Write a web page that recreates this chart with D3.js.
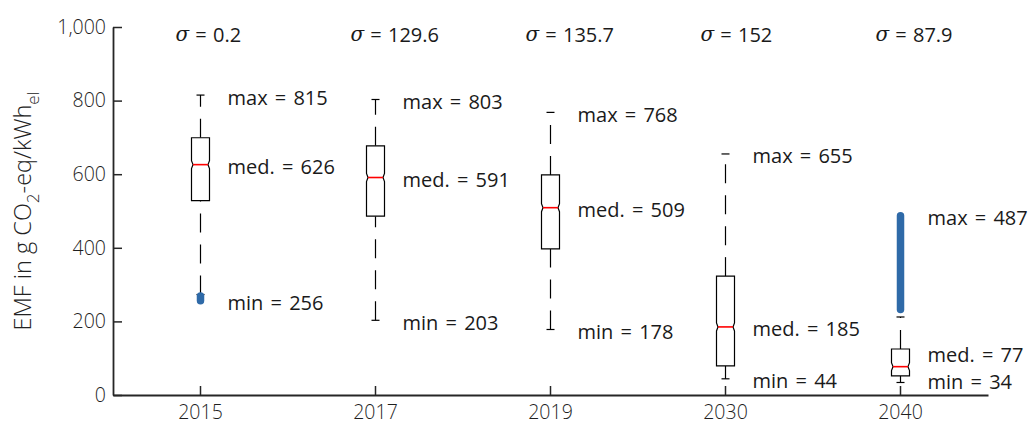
<!DOCTYPE html>
<html>
<head>
<meta charset="utf-8">
<script src="https://cdn.jsdelivr.net/npm/d3@7"></script>
<style>
  html, body { margin: 0; padding: 0; background: #fff; }
  svg { display: block; font-family: "Open Sans", "Noto Sans", sans-serif; }
</style>
</head>
<body>
<svg id="chart" width="1034" height="428"></svg>
<script>
// Emission factor distributions per year
const categories   = ["2015", "2017", "2019", "2030", "2040"];
const sigmaValues  = [0.2, 129.6, 135.7, 152, 87.9];
const q1Values     = [528, 486, 397, 79, 52];
const medianValues = [626, 591, 509, 185, 77];
const q3Values     = [699, 677, 598, 323, 125];
const upperWhisker = [815, 803, 768, 655, 212];
const lowerWhisker = [273, 203, 178, 44, 34];
// Outlier spans (dense runs of outlier points), null where none
const outlierLow   = [256, null, null, null, 232];
const outlierHigh  = [269, null, null, null, 487];
const maxValues    = [815, 803, 768, 655, 487];
const minValues    = [256, 203, 178, 44, 34];
const yTicks       = [0, 200, 400, 600, 800, 1000];

const svg = d3.select("#chart");
const plotLeft = 113, plotRight = 988, plotTop = 27, plotBottom = 395;

const x = d3.scaleBand().domain(categories).range([plotLeft, plotRight]);
const y = d3.scaleLinear().domain([0, 1000]).range([plotBottom, plotTop]);

const axisColor = "#262626";
const textColor = "#222";

// Axes with inward ticks
const yAxis = svg.append("g")
  .attr("transform", `translate(${plotLeft},0)`)
  .call(d3.axisLeft(y).tickValues(yTicks).tickFormat(d3.format(","))
    .tickSizeInner(-9).tickSizeOuter(0).tickPadding(7));
const xAxis = svg.append("g")
  .attr("transform", `translate(0,${plotBottom})`)
  .call(d3.axisBottom(x).tickSizeInner(-9).tickSizeOuter(0).tickPadding(10));

[yAxis, xAxis].forEach(g => {
  g.select(".domain").attr("stroke", axisColor).attr("stroke-width", 1.8);
  g.selectAll(".tick line").attr("stroke", axisColor).attr("stroke-width", 1.5);
  g.selectAll(".tick text").attr("fill", "#1f1f1f").style("font-size", "19.5px")
    .style("font-weight", "300")
    .style("font-family", "'Open Sans', sans-serif");
});

// Y-axis title with subscripts
const yTitle = svg.append("text")
  .attr("transform", `translate(31,${(plotTop + plotBottom) / 2}) rotate(-90)`)
  .attr("text-anchor", "middle")
  .attr("fill", textColor)
  .style("font-size", "23.5px")
  .style("font-weight", "300");
yTitle.append("tspan").text("EMF in g CO");
yTitle.append("tspan").attr("dy", 8).style("font-size", "17px").text("2");
yTitle.append("tspan").attr("dy", -8).text("-eq/kWh");
yTitle.append("tspan").attr("dy", 8).style("font-size", "17px").text("el");

const data = categories.map((c, i) => ({
  cat: c, sigma: sigmaValues[i], q1: q1Values[i], med: medianValues[i], q3: q3Values[i],
  hi: upperWhisker[i], lo: lowerWhisker[i],
  oLo: outlierLow[i], oHi: outlierHigh[i],
  max: maxValues[i], min: minValues[i]
}));

const halfW = 9, notchIn = 1.5, notchH = 4, capHalf = 4;
const g = svg.append("g");

data.forEach(d => {
  const cx = x(d.cat) + x.bandwidth() / 2;

  // Whiskers, drawn from the lower value upward so the dash phase starts there
  [[d.q3, d.hi], [d.lo, d.q1]].forEach(([a, b]) => {
    g.append("line")
      .attr("x1", cx).attr("x2", cx)
      .attr("y1", y(a)).attr("y2", y(b))
      .attr("stroke", "#000").attr("stroke-width", 1.2)
      .attr("stroke-dasharray", "19 12");
  });
  // Whisker caps
  [d.hi, d.lo].forEach(v => {
    g.append("line")
      .attr("x1", cx - capHalf).attr("x2", cx + capHalf)
      .attr("y1", y(v)).attr("y2", y(v))
      .attr("stroke", "#000").attr("stroke-width", 1.2);
  });

  // Notched box
  const yt = y(d.q3), yb = y(d.q1), ym = y(d.med);
  const path = d3.path();
  path.moveTo(cx - halfW, yt);
  path.lineTo(cx + halfW, yt);
  path.lineTo(cx + halfW, ym - notchH);
  path.lineTo(cx + halfW - notchIn, ym);
  path.lineTo(cx + halfW, ym + notchH);
  path.lineTo(cx + halfW, yb);
  path.lineTo(cx - halfW, yb);
  path.lineTo(cx - halfW, ym + notchH);
  path.lineTo(cx - halfW + notchIn, ym);
  path.lineTo(cx - halfW, ym - notchH);
  path.closePath();
  g.append("path").attr("d", path.toString())
    .attr("fill", "#fff").attr("stroke", "#000").attr("stroke-width", 1.2);

  // Median line
  g.append("line")
    .attr("x1", cx - halfW + notchIn).attr("x2", cx + halfW - notchIn)
    .attr("y1", ym).attr("y2", ym)
    .attr("stroke", "#ff0000").attr("stroke-width", 1.6);

  // Outliers: dense run of points
  if (d.oLo != null) {
    g.append("line")
      .attr("x1", cx).attr("x2", cx)
      .attr("y1", y(d.oLo)).attr("y2", y(d.oHi))
      .attr("stroke", "#2f6aa8").attr("stroke-width", 7.5)
      .attr("stroke-linecap", "round");
  }

  // Annotations; the median label moves up when it would collide with the min label
  const tx = cx + 27;
  const yMax = y(d.max) + 2;
  const yMin = Math.min(y(d.min) + 2, 381);
  let yMed = y(d.med) + 2;
  if (yMin - yMed < 27) yMed = yMin - 27;
  [["max = " + d.max, yMax], ["med. = " + d.med, yMed], ["min = " + d.min, yMin]].forEach(([t, ty]) => {
    g.append("text").attr("x", tx).attr("y", ty)
      .attr("dominant-baseline", "central")
      .attr("fill", "#1a1a1a").style("font-size", "20px")
      .style("word-spacing", "2px").text(t);
  });

  // Standard deviation label
  const s = g.append("text").attr("x", cx - 25).attr("y", 34)
    .attr("dominant-baseline", "central")
    .attr("fill", "#1a1a1a").style("font-size", "20px")
    .style("word-spacing", "1px");
  s.append("tspan").style("font-style", "italic").style("font-family", "'DejaVu Serif', serif").text("σ");
  s.append("tspan").text(" = " + d.sigma);
});
</script>
</body>
</html>
